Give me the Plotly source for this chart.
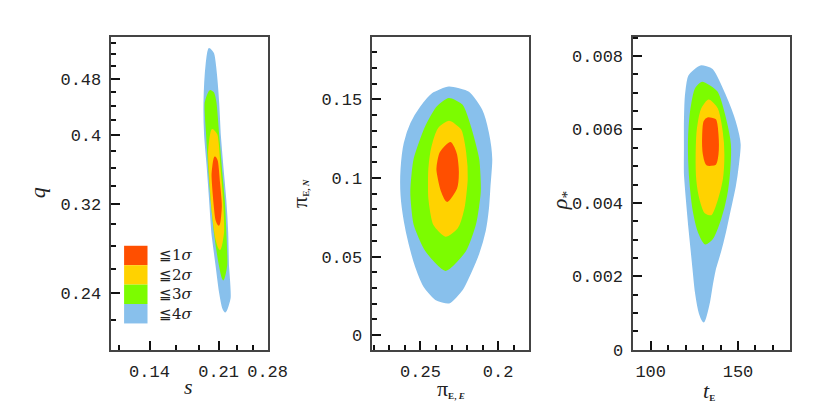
import plotly.graph_objects as go

# sigma levels, drawn from outermost to innermost
LEVELS = ["≦1σ", "≦2σ", "≦3σ", "≦4σ"]
COLORS = ["#FF4F00", "#FFD200", "#7CFC00", "#88C0EC"]

# --- panel 1: s vs q (both log) ---
s_4sig = [0.1986, 0.2035, 0.2062, 0.2095, 0.2115, 0.2148, 0.2185, 0.2209, 0.2219, 0.2241,
          0.2185, 0.2156, 0.2115, 0.2074, 0.2024, 0.1998, 0.1970, 0.1940, 0.1933, 0.1958]
q_4sig = [0.529, 0.5205, 0.4949, 0.4446, 0.4007, 0.3609, 0.3243, 0.2922, 0.2632, 0.2366,
          0.2264, 0.2292, 0.2419, 0.2632, 0.2922, 0.3243, 0.3609, 0.4007, 0.4446, 0.5044]
s_3sig = [0.1998, 0.2035, 0.2062, 0.2095, 0.2128, 0.2165, 0.2185, 0.2197,
          0.2156, 0.2115, 0.2055, 0.2015, 0.1986, 0.1963, 0.1947]
q_3sig = [0.4617, 0.4588, 0.4446, 0.4007, 0.3609, 0.3243, 0.2922, 0.2632,
          0.2511, 0.2632, 0.2922, 0.3243, 0.3609, 0.4007, 0.4446]
s_2sig = [0.2024, 0.2074, 0.2111, 0.2144, 0.2156, 0.2115, 0.2074, 0.2035, 0.2004, 0.1986]
q_2sig = [0.4071, 0.4007, 0.3609, 0.3243, 0.2922, 0.2770, 0.2858, 0.3084, 0.3422, 0.3797]
s_1sig = [0.2055, 0.2079, 0.2103, 0.2128, 0.2103, 0.2074, 0.2047, 0.2027]
q_1sig = [0.3726, 0.3680, 0.3455, 0.3183, 0.2997, 0.3045, 0.3243, 0.3532]

# --- panel 2: pi_E,E vs pi_E,N ---
piE_4sig = [0.2317, 0.2191, 0.2107, 0.2065, 0.2044, 0.2055, 0.2065, 0.2086, 0.2128, 0.2181,
            0.2233, 0.2317, 0.2401, 0.2475, 0.2528, 0.2570, 0.2601, 0.2622, 0.2622, 0.2601,
            0.2559, 0.2496, 0.2422]
piN_4sig = [0.1575, 0.1544, 0.1430, 0.1285, 0.1119, 0.0954, 0.0809, 0.0664, 0.0519, 0.0394,
            0.0291, 0.0208, 0.0229, 0.0312, 0.0436, 0.0581, 0.0726, 0.0891, 0.1057, 0.1223,
            0.1347, 0.1451, 0.1534]
piE_3sig = [0.2317, 0.2233, 0.2181, 0.2128, 0.2118, 0.2149, 0.2212, 0.2338,
            0.2464, 0.2538, 0.2559, 0.2538, 0.2464, 0.2391]
piN_3sig = [0.1502, 0.1461, 0.1326, 0.1119, 0.0912, 0.0705, 0.0539, 0.0415,
            0.0539, 0.0705, 0.0912, 0.1119, 0.1326, 0.1451]
piE_2sig = [0.2317, 0.2244, 0.2212, 0.2202, 0.2223, 0.2265, 0.2338, 0.2412,
            0.2443, 0.2443, 0.2422, 0.2380]
piN_2sig = [0.1357, 0.1306, 0.1161, 0.0995, 0.0809, 0.0684, 0.0633, 0.0705,
            0.0871, 0.1057, 0.1202, 0.1316]
piE_1sig = [0.2307, 0.2271, 0.2259, 0.2271, 0.2328, 0.2364, 0.2391, 0.2370]
piN_1sig = [0.1223, 0.1150, 0.1036, 0.0933, 0.0854, 0.0923, 0.1057, 0.1161]

# --- panel 3: t_E vs rho_* ---
tE_4sig = [128.56, 135.09, 142.56, 148.15, 150.95, 150.02, 148.15, 145.36, 142.56, 139.76,
           136.96, 135.09, 133.22, 130.42, 128.18, 125.76, 124.45, 123.33, 122.03, 120.72,
           119.60, 119.60, 119.60, 120.16, 122.03]
rho_4sig = [0.007716, 0.007628, 0.006920, 0.006212, 0.005593, 0.005062, 0.004442, 0.003823,
            0.003204, 0.002673, 0.002230, 0.001788, 0.001257, 0.000771, 0.000992, 0.001611,
            0.002230, 0.002761, 0.003381, 0.004088, 0.004796, 0.005504, 0.006212, 0.006920,
            0.007451]
tE_3sig = [129.49, 137.89, 142.56, 145.36, 144.98, 143.12, 139.76, 135.09,
           131.36, 127.62, 124.82, 122.96, 122.03, 122.03, 123.33, 125.76]
rho_3sig = [0.007274, 0.007008, 0.006300, 0.005593, 0.004885, 0.004177, 0.003558, 0.003027,
            0.002894, 0.003204, 0.003735, 0.004442, 0.005150, 0.005858, 0.006566, 0.007097]
tE_2sig = [133.22, 137.89, 140.69, 141.62, 140.69, 137.89, 134.53, 131.36,
           128.56, 126.69, 126.32, 127.07, 129.49]
rho_2sig = [0.006787, 0.006566, 0.005947, 0.005327, 0.004619, 0.004088, 0.003690, 0.003735,
            0.004088, 0.004619, 0.005327, 0.006035, 0.006566]
tE_1sig = [132.66, 136.96, 138.26, 138.26, 136.96, 132.29, 130.42, 130.05, 130.80]
rho_1sig = [0.006300, 0.006256, 0.005858, 0.005327, 0.005062, 0.005044, 0.005327, 0.005858,
            0.006212]

panels = [
    ("x", "y", [(s_4sig, q_4sig), (s_3sig, q_3sig), (s_2sig, q_2sig), (s_1sig, q_1sig)]),
    ("x2", "y2", [(piE_4sig, piN_4sig), (piE_3sig, piN_3sig), (piE_2sig, piN_2sig),
                  (piE_1sig, piN_1sig)]),
    ("x3", "y3", [(tE_4sig, rho_4sig), (tE_3sig, rho_3sig), (tE_2sig, rho_2sig),
                  (tE_1sig, rho_1sig)]),
]

fig = go.Figure()
for xa, ya, regions in panels:
    # regions listed 4 sigma -> 1 sigma, colours listed 1 -> 4
    for k, (xs, ys) in enumerate(regions):
        c = COLORS[3 - k]
        fig.add_trace(go.Scatter(x=xs + xs[:1], y=ys + ys[:1], xaxis=xa, yaxis=ya,
                                 mode="lines", fill="toself", fillcolor=c,
                                 line=dict(color=c, width=2, shape="spline", smoothing=0.6),
                                 showlegend=False, hoverinfo="skip"))

tick_font = dict(family="Liberation Mono", size=17, color="#222")
frame = dict(showline=True, linecolor="#444", linewidth=1.5, mirror=True,
             ticks="inside", ticklen=9, tickwidth=1.5, tickcolor="#111",
             showgrid=False, zeroline=False, tickfont=tick_font, ticklabelstandoff=5)
minor = dict(ticks="inside", ticklen=5, tickwidth=1.5, tickcolor="#111", showgrid=False)

ydom = [0.1603, 0.9299]
xdoms = [[0.1277, 0.3205], [0.4498, 0.6434], [0.7719, 0.9659]]

# per-panel tick setup: (x settings, y settings)
axis_specs = [
    (dict(type="log", range=[-0.951, -0.5528], tickvals=[0.14, 0.21, 0.28],
          ticktext=["0.14", "0.21", "0.28"],
          minor=dict(minor, tickvals=[0.1167, 0.1633, 0.1867, 0.2333, 0.2567])),
     dict(type="log", range=[-0.699, -0.259], tickvals=[0.24, 0.32, 0.4, 0.48],
          ticktext=["0.24", "0.32", "0.4", "0.48"],
          minor=dict(minor, tickvals=[0.22, 0.26, 0.28, 0.30, 0.34, 0.36, 0.38,
                                      0.42, 0.44, 0.46, 0.50, 0.52, 0.54]))),
    (dict(range=[0.281, 0.180], dtick=0.05, tick0=0, minor=dict(minor, dtick=0.01)),
     dict(range=[-0.0093, 0.190], dtick=0.05, tick0=0, minor=dict(minor, dtick=0.01))),
    (dict(range=[90, 180], dtick=50, tick0=0, minor=dict(minor, dtick=10)),
     dict(range=[0, 0.00853], dtick=0.002, tick0=0, minor=dict(minor, dtick=0.0005))),
]

layout = dict(width=830, height=418, margin=dict(l=0, r=0, t=0, b=0),
              paper_bgcolor="white", plot_bgcolor="white")
for i, (xs, ys) in enumerate(axis_specs):
    n = i + 1
    sx = "" if n == 1 else str(n)
    layout["xaxis" + sx] = dict(frame, **xs, domain=xdoms[i], anchor="y" + sx)
    layout["yaxis" + sx] = dict(frame, **ys, domain=ydom, anchor="x" + sx)
    # mirrored ticks on the top and right edges
    layout[f"xaxis{n + 3}"] = dict(frame, **xs, domain=xdoms[i], anchor="y" + sx,
                                   overlaying="x" + sx, side="top", showline=False,
                                   showticklabels=False)
    layout[f"yaxis{n + 3}"] = dict(frame, **ys, domain=ydom, anchor="x" + sx,
                                   overlaying="y" + sx, side="right", showline=False,
                                   showticklabels=False)
fig.update_layout(layout)

serif = dict(family="Liberation Serif", size=22, color="#222")
sub = "font-size:13px;font-weight:bold"
titles = [
    (0.036, 0.545, "<i>q</i>", -90),
    (0.223, 0.070, "<i>s</i>", 0),
    (0.359, 0.545, f"π<span style='{sub}'><sub>E, <i>N</i></sub></span>", -90),
    (0.547, 0.066, f"π<span style='{sub}'><sub>E, <i>E</i></sub></span>", 0),
    (0.683, 0.526, "<i>ρ</i><sub>*</sub>", -90),
    (0.866, 0.060, f"<i>t</i><span style='{sub}'><sub>E</sub></span>", 0),
]
for x, y, text, ang in titles:
    fig.add_annotation(x=x, y=y, xref="paper", yref="paper", text=text, showarrow=False,
                       xanchor="center", yanchor="middle", textangle=ang, font=serif)

# legend boxes inside the first panel
for i, (lab, c) in enumerate(zip(LEVELS, COLORS)):
    y1 = 0.332 - 0.062 * i
    fig.add_shape(type="rect", xref="x domain", yref="y domain", x0=0.081, x1=0.231,
                  y0=y1 - 0.062, y1=y1, fillcolor=c, line_width=0)
    fig.add_annotation(xref="x domain", yref="y domain", x=0.29, y=y1 - 0.031,
                       xanchor="left", yanchor="middle", showarrow=False,
                       text=lab[:2] + "<i>σ</i>",
                       font=dict(family="DejaVu Serif", size=15, color="#222"))

fig.write_html("out.html")
